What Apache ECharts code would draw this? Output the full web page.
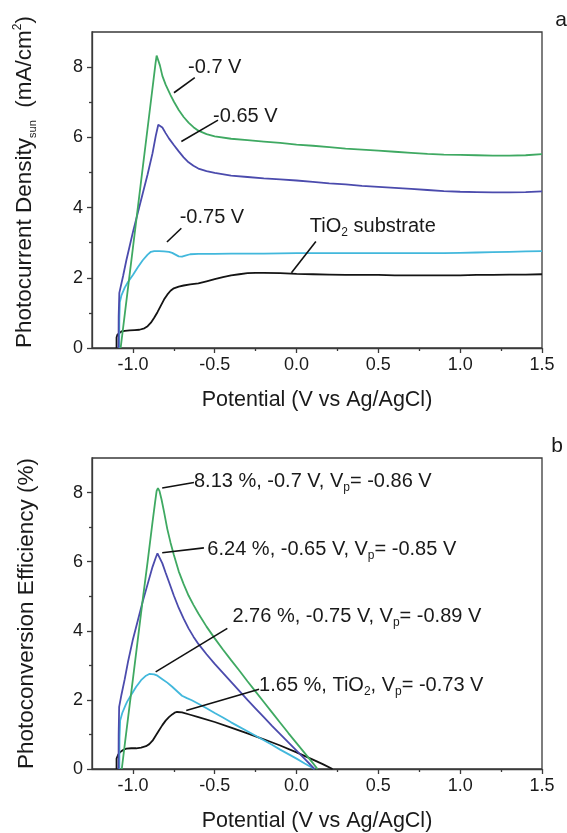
<!DOCTYPE html>
<html>
<head>
<meta charset="utf-8">
<script src="https://cdn.jsdelivr.net/npm/echarts@6/dist/echarts.min.js"></script>
<style>
  html, body { margin: 0; padding: 0; background: #ffffff; }
  #chart { width: 567px; height: 833px; }
</style>
</head>
<body>
<div id="chart"></div>
<script>
// ---------- Panel a: photocurrent density (mA/cm^2) vs potential (V vs Ag/AgCl) ----------
const jX_green = [-1.075, -1.05, -1.0, -0.95, -0.9, -0.875, -0.862, -0.855, -0.848, -0.835, -0.82, -0.8, -0.783, -0.77, -0.75, -0.72, -0.69, -0.66, -0.63, -0.6, -0.55, -0.5, -0.4, -0.3, -0.2, -0.1, 0.0, 0.1, 0.2, 0.3, 0.4, 0.5, 0.6, 0.7, 0.8, 0.9, 1.0, 1.1, 1.2, 1.3, 1.4, 1.5];
const jY_green = [0, 0.95, 2.85, 4.75, 6.65, 7.6, 8.1, 8.33, 8.3, 8.05, 7.75, 7.5, 7.33, 7.2, 7.02, 6.78, 6.58, 6.42, 6.29, 6.19, 6.09, 6.03, 5.96, 5.92, 5.88, 5.84, 5.79, 5.76, 5.72, 5.68, 5.65, 5.62, 5.59, 5.56, 5.53, 5.51, 5.50, 5.49, 5.48, 5.48, 5.49, 5.52];

const jX_blue = [-1.088, -1.087, -1.083, -1.06, -1.04, -1.02, -1.0, -0.97, -0.94, -0.91, -0.88, -0.86, -0.845, -0.835, -0.82, -0.8, -0.78, -0.75, -0.72, -0.69, -0.66, -0.63, -0.6, -0.55, -0.5, -0.4, -0.3, -0.2, -0.1, 0.0, 0.1, 0.2, 0.3, 0.4, 0.5, 0.6, 0.7, 0.8, 0.9, 1.0, 1.1, 1.2, 1.3, 1.4, 1.5];
const jY_blue = [0, 0.9, 1.57, 2.05, 2.5, 2.9, 3.3, 3.85, 4.4, 4.95, 5.55, 6.05, 6.36, 6.40, 6.28, 6.12, 5.97, 5.78, 5.6, 5.43, 5.29, 5.19, 5.11, 5.04, 4.99, 4.91, 4.87, 4.83, 4.8, 4.77, 4.73, 4.69, 4.66, 4.62, 4.59, 4.56, 4.53, 4.5, 4.47, 4.45, 4.44, 4.43, 4.43, 4.44, 4.46];

const jX_cyan = [-1.084, -1.083, -1.08, -1.07, -1.05, -1.03, -1.0, -0.97, -0.94, -0.91, -0.89, -0.87, -0.84, -0.81, -0.78, -0.76, -0.74, -0.72, -0.7, -0.68, -0.65, -0.6, -0.5, -0.4, -0.2, 0.0, 0.2, 0.4, 0.6, 0.8, 0.9, 1.0, 1.1, 1.2, 1.3, 1.4, 1.5];
const jY_cyan = [0, 0.8, 1.3, 1.5, 1.72, 1.88, 2.08, 2.3, 2.5, 2.66, 2.74, 2.76, 2.76, 2.75, 2.74, 2.71, 2.66, 2.61, 2.6, 2.63, 2.67, 2.68, 2.68, 2.69, 2.69, 2.70, 2.70, 2.70, 2.70, 2.70, 2.70, 2.71, 2.72, 2.73, 2.74, 2.75, 2.76];

const jX_black = [-1.1, -1.1, -1.095, -1.085, -1.07, -1.05, -1.02, -0.99, -0.96, -0.93, -0.91, -0.89, -0.87, -0.85, -0.83, -0.81, -0.79, -0.77, -0.75, -0.72, -0.69, -0.65, -0.6, -0.55, -0.5, -0.45, -0.4, -0.35, -0.3, -0.25, -0.2, -0.1, 0.0, 0.1, 0.2, 0.3, 0.4, 0.5, 0.6, 0.7, 0.8, 0.9, 1.0, 1.1, 1.2, 1.3, 1.4, 1.5];
const jY_black = [0, 0.3, 0.38, 0.43, 0.47, 0.49, 0.5, 0.51, 0.52, 0.56, 0.62, 0.72, 0.86, 1.02, 1.2, 1.38, 1.52, 1.63, 1.7, 1.75, 1.78, 1.81, 1.84, 1.9, 1.96, 2.02, 2.07, 2.1, 2.13, 2.14, 2.14, 2.13, 2.11, 2.1, 2.09, 2.08, 2.08, 2.08, 2.07, 2.07, 2.07, 2.07, 2.07, 2.08, 2.08, 2.09, 2.09, 2.1];

// ---------- Panel b: photoconversion efficiency (%) vs potential ----------
const eX_green = [-1.068, -1.05, -1.02, -1.0, -0.97, -0.94, -0.91, -0.88, -0.865, -0.855, -0.847, -0.838, -0.825, -0.81, -0.79, -0.77, -0.75, -0.72, -0.69, -0.66, -0.63, -0.6, -0.55, -0.5, -0.45, -0.4, -0.35, -0.3, -0.25, -0.2, -0.15, -0.1, -0.05, 0.0, 0.05, 0.1, 0.128];
const eY_green = [0, 0.7, 1.85, 2.6, 3.75, 4.9, 6.0, 7.15, 7.7, 8.05, 8.13, 8.05, 7.8, 7.45, 6.95, 6.55, 6.2, 5.72, 5.35, 5.02, 4.75, 4.5, 4.12, 3.78, 3.46, 3.15, 2.85, 2.54, 2.24, 1.94, 1.64, 1.34, 1.04, 0.75, 0.46, 0.17, 0];

const eX_blue = [-1.088, -1.087, -1.084, -1.07, -1.05, -1.03, -1.0, -0.97, -0.94, -0.91, -0.88, -0.86, -0.85, -0.84, -0.82, -0.8, -0.78, -0.75, -0.72, -0.69, -0.66, -0.63, -0.6, -0.55, -0.5, -0.45, -0.4, -0.35, -0.3, -0.25, -0.2, -0.15, -0.1, -0.05, 0.0, 0.05, 0.11];
const eY_blue = [0, 1.0, 1.8, 2.15, 2.6, 3.1, 3.75, 4.3, 4.85, 5.35, 5.85, 6.12, 6.24, 6.2, 5.95, 5.68, 5.42, 5.02, 4.66, 4.35, 4.07, 3.83, 3.62, 3.32, 3.04, 2.78, 2.52, 2.26, 2.0, 1.75, 1.5, 1.25, 1.01, 0.77, 0.53, 0.29, 0];

const eX_cyan = [-1.083, -1.082, -1.078, -1.065, -1.045, -1.035, -1.01, -0.98, -0.95, -0.92, -0.9, -0.89, -0.87, -0.85, -0.82, -0.79, -0.76, -0.73, -0.7, -0.67, -0.64, -0.6, -0.55, -0.5, -0.45, -0.4, -0.35, -0.3, -0.25, -0.2, -0.15, -0.1, -0.05, 0.0, 0.05, 0.11];
const eY_cyan = [0, 0.9, 1.4, 1.62, 1.85, 1.95, 2.15, 2.38, 2.57, 2.7, 2.75, 2.76, 2.74, 2.7, 2.6, 2.5, 2.38, 2.25, 2.12, 2.05, 1.99, 1.89, 1.76, 1.62, 1.49, 1.35, 1.22, 1.09, 0.96, 0.83, 0.7, 0.56, 0.43, 0.3, 0.16, 0];

const eX_black = [-1.1, -1.1, -1.09, -1.075, -1.06, -1.04, -1.01, -0.98, -0.95, -0.92, -0.9, -0.88, -0.86, -0.84, -0.82, -0.8, -0.78, -0.76, -0.745, -0.73, -0.7, -0.65, -0.6, -0.5, -0.4, -0.3, -0.2, -0.1, 0.0, 0.1, 0.16, 0.22];
const eY_black = [0, 0.3, 0.42, 0.5, 0.55, 0.59, 0.6, 0.6, 0.62, 0.66, 0.72, 0.82, 0.97, 1.12, 1.27, 1.4, 1.5, 1.58, 1.63, 1.65, 1.64, 1.57, 1.5, 1.36, 1.2, 1.03, 0.86, 0.68, 0.48, 0.27, 0.14, 0];

// ---------- Axis ticks ----------
const xMajorTicks = [-1.0, -0.5, 0.0, 0.5, 1.0, 1.5];
const xMinorTicks = [-0.75, -0.25, 0.25, 0.75, 1.25];
const yMajorTicks = [0, 2, 4, 6, 8];
const yMinorTicks = [1, 3, 5, 7];

// ---------- Styling ----------
const FONT = '"Liberation Sans", Arial, Helvetica, sans-serif';
const AXIS_COLOR = '#3a3a3a';
const TEXT_COLOR = '#1a1a1a';
const COLORS = { green: '#3fa962', blue: '#4b4bad', cyan: '#42b8dc', black: '#141414' };

const pairs = (xs, ys) => xs.map((x, i) => [x, ys[i]]);

function xAxesFor(gridIndex) {
  return [
    {
      gridIndex, type: 'value', min: -1.25, max: 1.5, interval: 0.25,
      axisLine: { show: true, onZero: false, lineStyle: { color: AXIS_COLOR, width: 1.3 } },
      axisTick: { show: true, customValues: xMajorTicks, length: 5, lineStyle: { color: AXIS_COLOR, width: 1.3 } },
      axisLabel: { customValues: xMajorTicks, formatter: v => v.toFixed(1), fontFamily: FONT, fontSize: 18, color: TEXT_COLOR, margin: 8 },
      splitLine: { show: false },
      name: 'Potential (V vs Ag/AgCl)', nameLocation: 'middle', nameGap: 41,
      nameTextStyle: { fontFamily: FONT, fontSize: 21.5, color: TEXT_COLOR }
    },
    {
      gridIndex, type: 'value', min: -1.25, max: 1.5, interval: 0.25, position: 'bottom',
      axisLine: { show: false, onZero: false },
      axisTick: { show: true, customValues: xMinorTicks, length: 3, lineStyle: { color: AXIS_COLOR, width: 1.3 } },
      axisLabel: { show: false },
      splitLine: { show: false }
    }
  ];
}

function yAxesFor(gridIndex, nameText, rich, namePadding) {
  return [
    {
      gridIndex, type: 'value', min: 0, max: 9, interval: 1,
      axisLine: { show: true, onZero: false, lineStyle: { color: AXIS_COLOR, width: 1.3 } },
      axisTick: { show: true, customValues: yMajorTicks, length: 5, lineStyle: { color: AXIS_COLOR, width: 1.3 } },
      axisLabel: { customValues: yMajorTicks, fontFamily: FONT, fontSize: 18, color: TEXT_COLOR, margin: 9 },
      splitLine: { show: false },
      name: nameText, nameLocation: 'middle', nameGap: 54, nameRotate: 90,
      nameTextStyle: { fontFamily: FONT, fontSize: 22.5, color: TEXT_COLOR, rich, padding: namePadding }
    },
    {
      gridIndex, type: 'value', min: 0, max: 9, interval: 1, position: 'left',
      axisLine: { show: false, onZero: false },
      axisTick: { show: true, customValues: yMinorTicks, length: 3, lineStyle: { color: AXIS_COLOR, width: 1.3 } },
      axisLabel: { show: false },
      splitLine: { show: false }
    }
  ];
}

function line(name, data, color, xAxisIndex, yAxisIndex) {
  return {
    name, type: 'line', data, xAxisIndex, yAxisIndex,
    showSymbol: false, symbol: 'none', smooth: false, animation: false,
    lineStyle: { color, width: 1.8 }, itemStyle: { color }
  };
}

const gridStyle = { show: true, borderColor: AXIS_COLOR, borderWidth: 1.3, backgroundColor: 'transparent', containLabel: false };

const yNameRichA = {
  n: { fontFamily: FONT, fontSize: 22.5, color: TEXT_COLOR, lineHeight: 26 },
  sub: { fontFamily: FONT, fontSize: 11, color: TEXT_COLOR, lineHeight: 11, verticalAlign: 'bottom' },
  sup: { fontFamily: FONT, fontSize: 12, color: TEXT_COLOR, lineHeight: 12, verticalAlign: 'top' }
};

const option = {
  animation: false,
  backgroundColor: '#ffffff',
  grid: [
    Object.assign({ left: 92, top: 32, width: 450, height: 316 }, gridStyle),
    Object.assign({ left: 92, top: 458, width: 450, height: 314 }, gridStyle)
  ],
  xAxis: [...xAxesFor(0), ...xAxesFor(1)],
  yAxis: [
    ...yAxesFor(0, '{n|Photocurrent Density}{sub|sun}{n|  (mA/cm}{sup|2}{n|)}', yNameRichA, [0, 0, 0, 16]),
    ...yAxesFor(1, 'Photoconversion Efficiency (%)', {}, [0, 0, 0, 0])
  ],
  series: [
    line('TiO2 substrate', pairs(jX_black, jY_black), COLORS.black, 0, 0),
    line('-0.75 V', pairs(jX_cyan, jY_cyan), COLORS.cyan, 0, 0),
    line('-0.65 V', pairs(jX_blue, jY_blue), COLORS.blue, 0, 0),
    line('-0.7 V', pairs(jX_green, jY_green), COLORS.green, 0, 0),
    line('TiO2', pairs(eX_black, eY_black), COLORS.black, 2, 2),
    line('-0.75 V', pairs(eX_cyan, eY_cyan), COLORS.cyan, 2, 2),
    line('-0.65 V', pairs(eX_blue, eY_blue), COLORS.blue, 2, 2),
    line('-0.7 V', pairs(eX_green, eY_green), COLORS.green, 2, 2)
  ]
};

const chart = echarts.init(document.getElementById('chart'), null, { renderer: 'canvas' });
chart.setOption(option);

// ---------- Callouts: text anchored at a data point, leader from the curve ----------
const noteRich = {
  t: { fontFamily: FONT, fontSize: 20, fill: TEXT_COLOR, lineHeight: 24 },
  s: { fontFamily: FONT, fontSize: 12, fill: TEXT_COLOR, lineHeight: 12, verticalAlign: 'bottom' }
};
const notes = [
  { grid: 0, text: '{t|-0.7 V}', at: [-0.663, 7.98], from: [-0.749, 7.27], to: [-0.622, 7.70] },
  { grid: 0, text: '{t|-0.65 V}', at: [-0.51, 6.59], from: [-0.704, 5.88], to: [-0.48, 6.49] },
  { grid: 0, text: '{t|-0.75 V}', at: [-0.714, 3.71], from: [-0.792, 3.02], to: [-0.704, 3.41] },
  { grid: 0, text: '{t|TiO}{s|2}{t| substrate}', at: [0.081, 3.46], from: [-0.031, 2.14], to: [0.118, 3.03] },
  { grid: 1, text: '{t|8.13 %, -0.7 V, V}{s|p}{t|= -0.86 V}', at: [-0.627, 8.31], from: [-0.821, 8.13], to: [-0.627, 8.29] },
  { grid: 1, text: '{t|6.24 %, -0.65 V, V}{s|p}{t|= -0.85 V}', at: [-0.545, 6.34], from: [-0.821, 6.26], to: [-0.566, 6.40] },
  { grid: 1, text: '{t|2.76 %, -0.75 V, V}{s|p}{t|= -0.89 V}', at: [-0.392, 4.40], from: [-0.861, 2.81], to: [-0.423, 4.07] },
  { grid: 1, text: '{t|1.65 %, TiO}{s|2}{t|, V}{s|p}{t|= -0.73 V}', at: [-0.229, 2.41], from: [-0.674, 1.69], to: [-0.229, 2.31] }
];

const graphics = [];
notes.forEach(n => {
  const p = chart.convertToPixel({ gridIndex: n.grid }, n.at);
  const a = chart.convertToPixel({ gridIndex: n.grid }, n.from);
  const b = chart.convertToPixel({ gridIndex: n.grid }, n.to);
  graphics.push({
    type: 'line', silent: true, z: 10,
    shape: { x1: a[0], y1: a[1], x2: b[0], y2: b[1] },
    style: { stroke: '#111111', lineWidth: 1.6 }
  });
  graphics.push({
    type: 'text', silent: true, z: 11, x: p[0], y: p[1],
    style: { text: n.text, rich: noteRich, align: 'left', verticalAlign: 'middle', fill: TEXT_COLOR }
  });
});
graphics.push({ type: 'text', x: 561, y: 20, style: { text: 'a', fontFamily: FONT, fontSize: 21, fill: TEXT_COLOR, align: 'center', verticalAlign: 'middle' } });
graphics.push({ type: 'text', x: 557, y: 446, style: { text: 'b', fontFamily: FONT, fontSize: 21, fill: TEXT_COLOR, align: 'center', verticalAlign: 'middle' } });

chart.setOption({ graphic: graphics });
</script>
</body>
</html>
